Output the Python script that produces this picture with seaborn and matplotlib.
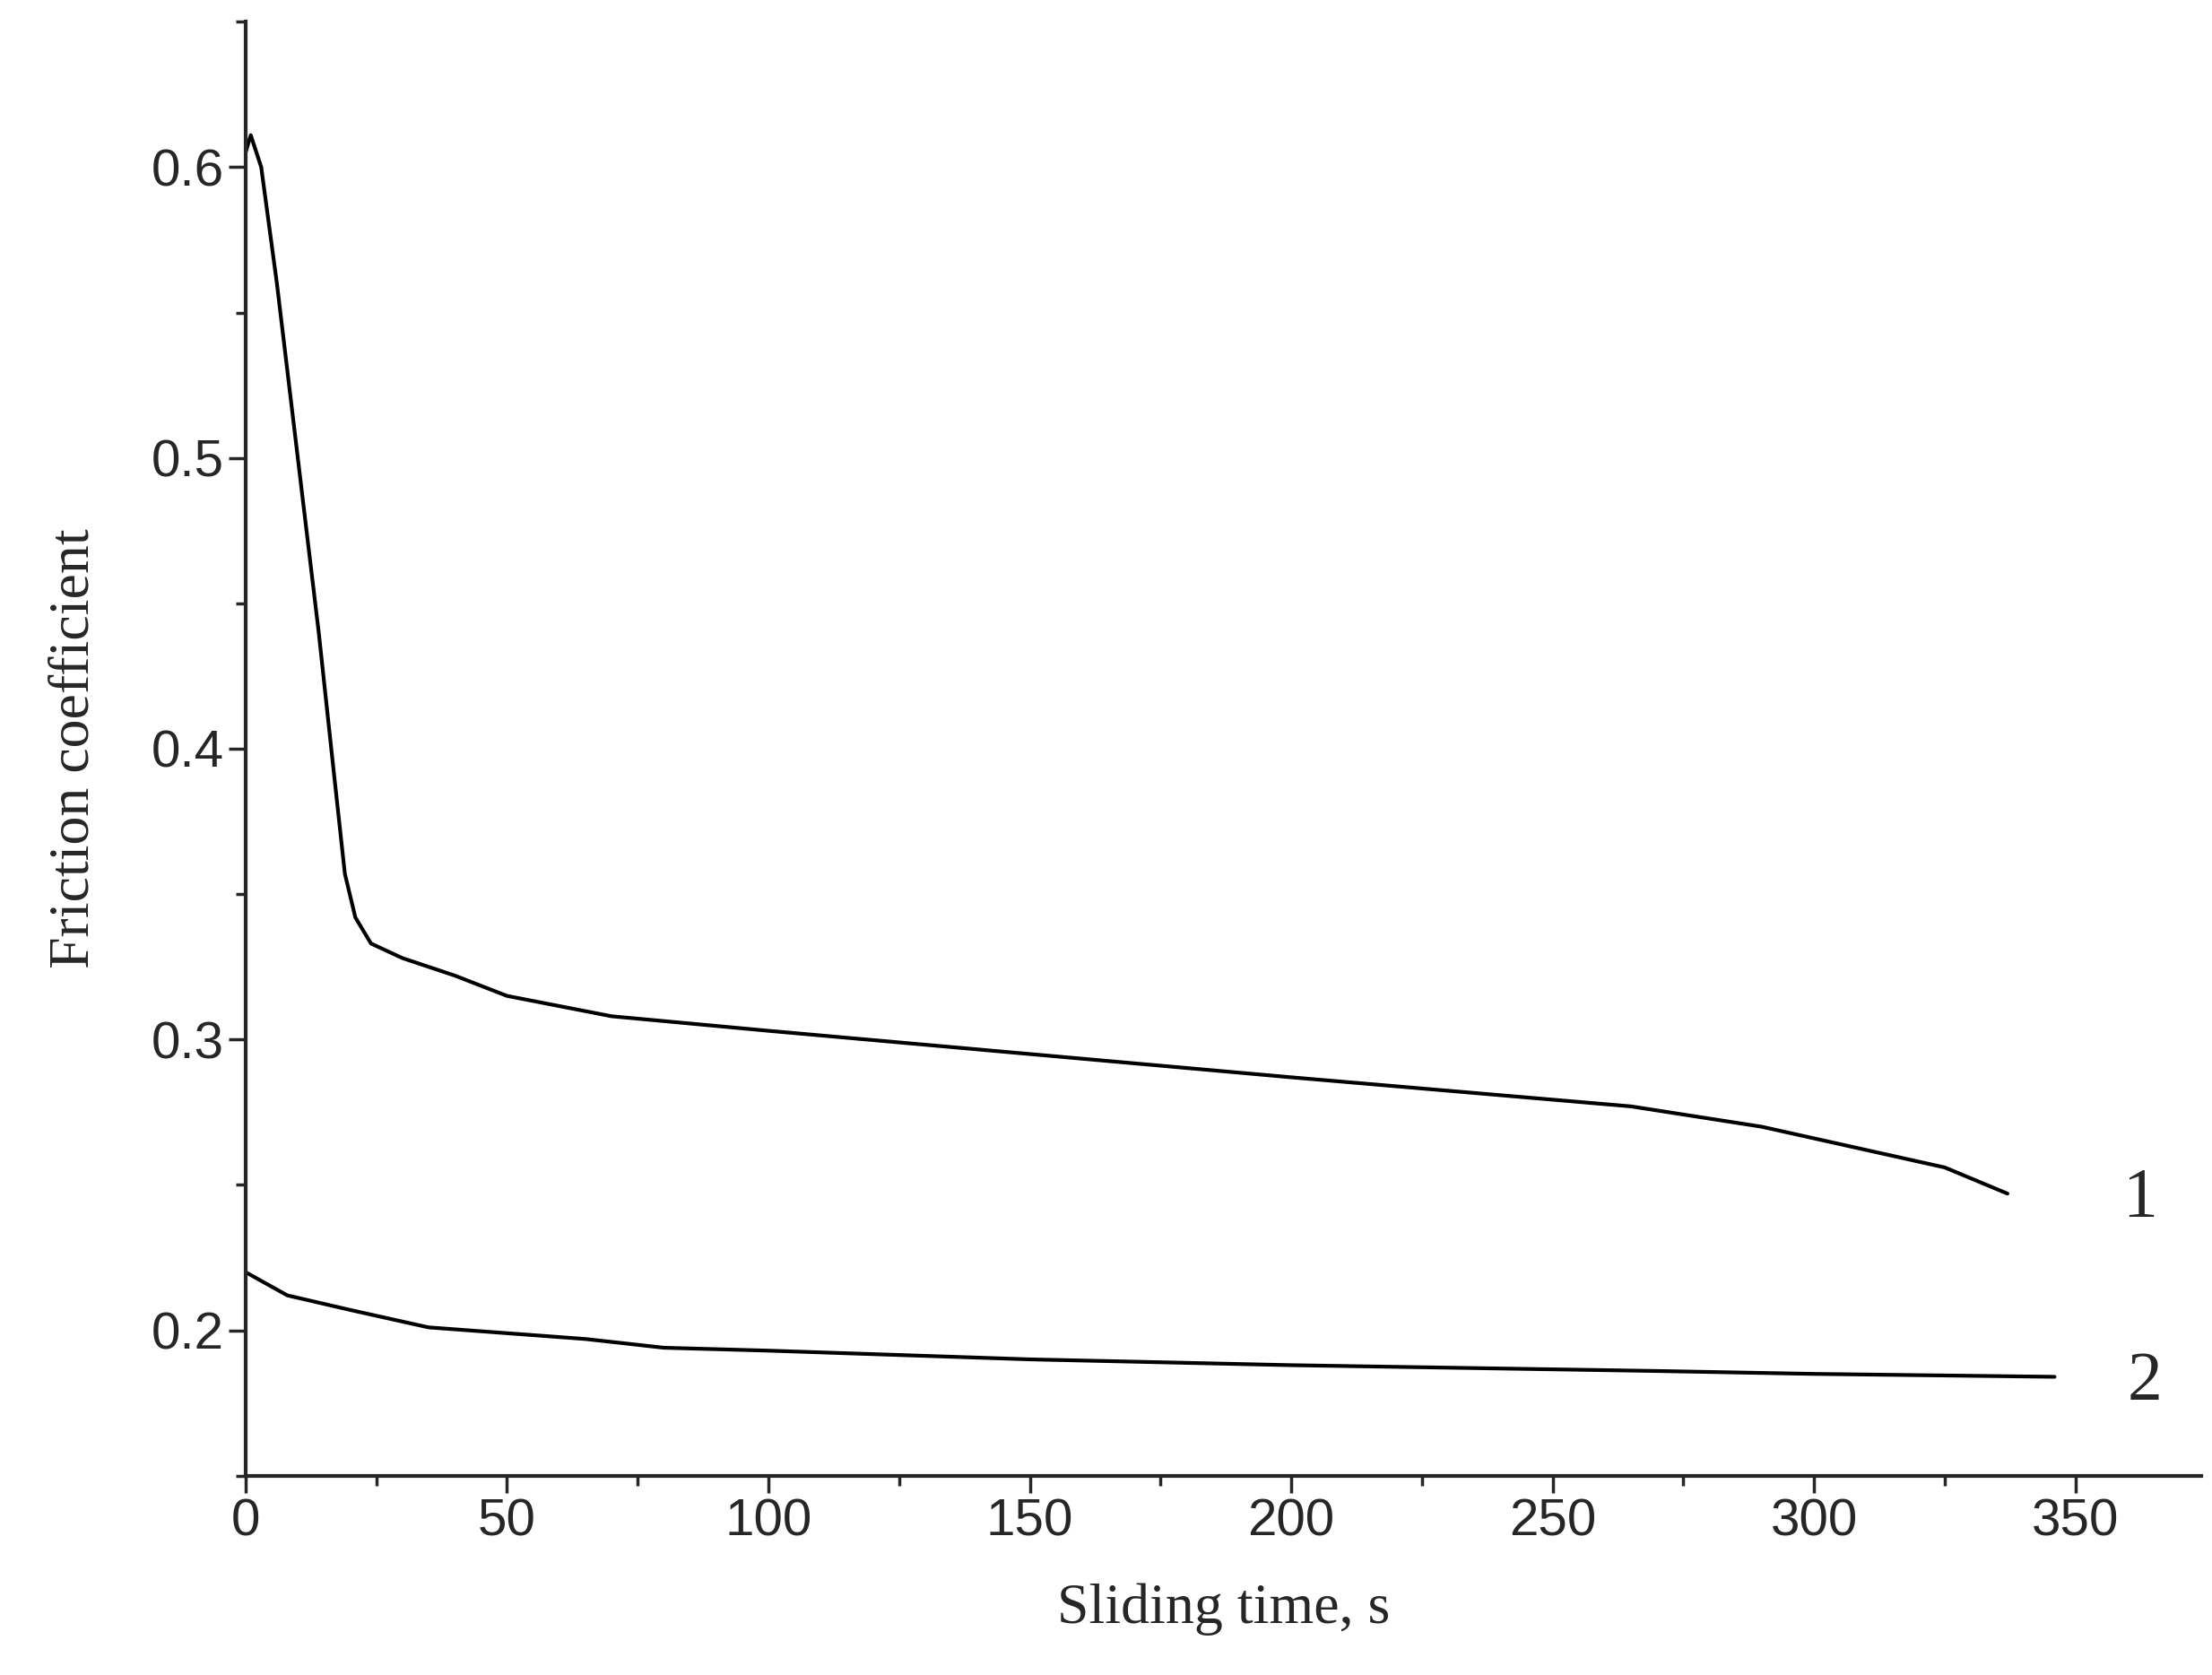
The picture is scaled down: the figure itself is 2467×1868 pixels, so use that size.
import matplotlib
matplotlib.use("Agg")
import matplotlib.pyplot as plt
import seaborn as sns
from matplotlib.ticker import MultipleLocator

# Data
t1 = [0, 1, 3, 6, 10, 14, 17, 19, 21, 24, 30, 40, 50, 70, 100, 150, 200, 265, 290,
      310, 325, 337]
f1 = [0.605, 0.611, 0.60, 0.56, 0.50, 0.44, 0.39, 0.357, 0.342, 0.333, 0.328, 0.322,
      0.315, 0.308, 0.303, 0.295, 0.287, 0.277, 0.270, 0.262, 0.256, 0.247]
t2 = [0, 3, 8, 20, 35, 50, 65, 80, 100, 150, 200, 270, 300, 346]
f2 = [0.220, 0.217, 0.212, 0.207, 0.201, 0.199, 0.197, 0.194, 0.193, 0.190, 0.188,
      0.186, 0.185, 0.184]

sns.set_style("ticks")
plt.rcParams['font.family'] = ['Liberation Sans', 'DejaVu Sans']

fig = plt.figure(figsize=(24.67, 18.68), dpi=100)
ax = fig.add_axes([0.111, 0.119, 0.884, 0.868])

sns.lineplot(x=t1, y=f1, ax=ax, color='black', linewidth=3)
sns.lineplot(x=t2, y=f2, ax=ax, color='black', linewidth=3)

ax.set_xlim(0, 374)
ax.set_ylim(0.15, 0.65)
ax.xaxis.set_major_locator(MultipleLocator(50))
ax.xaxis.set_minor_locator(MultipleLocator(25))
ax.yaxis.set_major_locator(MultipleLocator(0.1))
ax.yaxis.set_minor_locator(MultipleLocator(0.05))
ax.tick_params(which='major', length=14, width=2.5, labelsize=42, direction='out')
ax.tick_params(which='minor', length=8, width=2.5, direction='out')
for s in ['top', 'right']:
    ax.spines[s].set_visible(False)
for s in ['left', 'bottom']:
    ax.spines[s].set_linewidth(3)

ax.set_xlabel('Sliding time, s', family='Liberation Serif', fontsize=46, labelpad=30)
ax.set_ylabel('Friction coefficient', family='Liberation Serif', fontsize=46, labelpad=40)

ax.text(359, 0.245, '1', family='Liberation Serif', fontsize=56, va='center')
ax.text(360, 0.182, '2', family='Liberation Serif', fontsize=56, va='center')

fig.savefig('out.png', dpi=100)
